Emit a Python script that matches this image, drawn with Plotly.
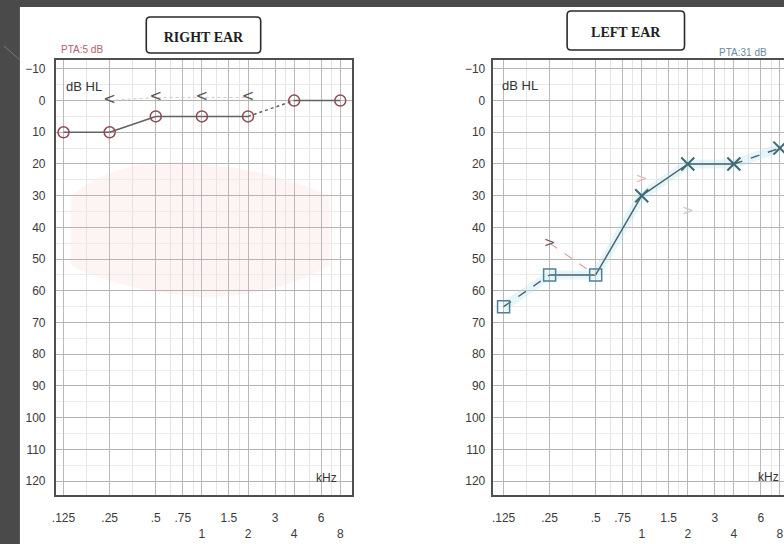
import plotly.graph_objects as go

# ---- audiogram data -------------------------------------------------------
freqs = [0.125, 0.25, 0.5, 1, 2, 4, 8]

# right ear, air conduction (circles)
right_ac = [10, 10, 5, 5, 5, 0, 0]
right_ac_dash = ["solid", "solid", "solid", "solid", "dot", "solid"]
# right ear, bone conduction (<)
right_bc_freqs = [0.25, 0.5, 1, 2]
right_bc = [0, -1, -1, -1]

# left ear, air conduction: masked (squares) then unmasked (X)
left_sq_freqs = [0.125, 0.25, 0.5]
left_sq = [65, 55, 55]
left_x_freqs = [1, 2, 4, 8]
left_x = [30, 20, 20, 15]
left_ac = left_sq + left_x
left_ac_dash = ["dash", "solid", "solid", "solid", "solid", "dash"]
# left ear, bone conduction (>)
left_bc_freqs = [0.25, 1, 2]
left_bc = [45, 25, 35]

tick_freqs = [0.125, 0.25, 0.5, 0.75, 1, 1.5, 2, 3, 4, 6, 8]
tick_text = [".125", ".25", ".5", ".75", "<br>1", "1.5", "<br>2", "3", "<br>4", "6", "<br>8"]
minor_freqs = [0.177, 0.354, 0.625, 0.875, 1.25, 1.75, 2.5, 3.5, 5, 7]
db_ticks = list(range(-10, 121, 10))

W, H = 784, 544
SLIDE = "#4a4a4a"
FRAME = "#4f4f4f"
NARROW = "Liberation Sans Narrow, Arial Narrow, Liberation Sans, sans-serif"


def px(x):
    return x / W


def py(y):
    return 1 - y / H


fig = go.Figure()

# ---- right ear ------------------------------------------------------------
RED = "#8e4a52"
for i, d in enumerate(right_ac_dash):
    fig.add_trace(go.Scatter(
        x=freqs[i:i + 2], y=right_ac[i:i + 2], mode="lines",
        line=dict(color="#626262", width=1.5, dash=d),
        xaxis="x", yaxis="y", showlegend=False, hoverinfo="skip"))
fig.add_trace(go.Scatter(
    x=right_bc_freqs, y=right_bc, mode="lines",
    line=dict(color="#dcc4c8", width=1, dash="dot"),
    xaxis="x", yaxis="y", showlegend=False, hoverinfo="skip"))
fig.add_trace(go.Scatter(
    x=freqs, y=right_ac, mode="markers",
    marker=dict(symbol="circle-open", size=11, color=RED, line=dict(width=1.5)),
    xaxis="x", yaxis="y", showlegend=False, cliponaxis=False))
fig.add_trace(go.Scatter(
    x=right_bc_freqs, y=right_bc, mode="text", text=["<"] * len(right_bc),
    textfont=dict(family="DejaVu Sans", size=15, color="#555555"),
    xaxis="x", yaxis="y", showlegend=False))

# ---- left ear -------------------------------------------------------------
BLUE = "#4f7f98"
fig.add_trace(go.Scatter(
    x=freqs, y=left_ac, mode="lines",
    line=dict(color="rgba(170,225,240,0.3)", width=9),
    xaxis="x2", yaxis="y2", showlegend=False, hoverinfo="skip"))
for i, d in enumerate(left_ac_dash):
    fig.add_trace(go.Scatter(
        x=freqs[i:i + 2], y=left_ac[i:i + 2], mode="lines",
        line=dict(color="#4d5d66", width=1.4, dash=d),
        xaxis="x2", yaxis="y2", showlegend=False, hoverinfo="skip"))
fig.add_trace(go.Scatter(
    x=[left_bc_freqs[0], left_sq_freqs[2]], y=[left_bc[0], left_sq[2]], mode="lines",
    line=dict(color="#dba0b0", width=1.2, dash="dash"),
    xaxis="x2", yaxis="y2", showlegend=False, hoverinfo="skip"))
fig.add_trace(go.Scatter(
    x=left_sq_freqs, y=left_sq, mode="markers",
    marker=dict(symbol="square-open", size=12, color=BLUE, line=dict(width=1.5)),
    xaxis="x2", yaxis="y2", showlegend=False))
fig.add_trace(go.Scatter(
    x=left_x_freqs, y=left_x, mode="markers",
    marker=dict(symbol="x-thin-open", size=13, color="#3e6a72", line=dict(width=2)),
    xaxis="x2", yaxis="y2", showlegend=False))
fig.add_trace(go.Scatter(
    x=left_bc_freqs, y=left_bc, mode="text", text=[">"] * len(left_bc),
    textfont=dict(family="DejaVu Sans", size=14, color=["#6a5a60", "#e3b8c4", "#c8c8c8"]),
    xaxis="x2", yaxis="y2", showlegend=False))

# ---- axes -----------------------------------------------------------------
y_top, y_bot = 60, 495


def xaxis(domain, rng):
    return dict(
        type="log", domain=domain, range=rng,
        tickmode="array", tickvals=tick_freqs, ticktext=tick_text,
        tickfont=dict(family=NARROW, size=12, color="#3a3a3a"),
        ticks="", ticklabelstandoff=11,
        showgrid=True, gridcolor="#bababa", gridwidth=1,
        minor=dict(tickmode="array", tickvals=minor_freqs, showgrid=True,
                   gridcolor="#e4e4e4", gridwidth=1),
        showline=True, linecolor=FRAME, linewidth=1.6,
        zeroline=False, fixedrange=True)


def yaxis(standoff):
    return dict(
        domain=[py(y_bot), py(y_top)], range=[124.4, -12.8],
        tickmode="array", tickvals=db_ticks,
        tickfont=dict(family=NARROW, size=12, color="#3a3a3a"),
        ticks="", ticklabelstandoff=standoff,
        showgrid=True, gridcolor="#b4b4b4", gridwidth=1,
        minor=dict(dtick=5, showgrid=True, gridcolor="#ebebeb", gridwidth=1),
        showline=True, linecolor=FRAME, linewidth=1.6,
        zeroline=False, fixedrange=True)


lx = xaxis([px(52), px(350)], [-0.954, 0.981])
lx.update(anchor="y", mirror=True)
rx = xaxis([px(492), 1.0], [-0.969, 0.930])
rx.update(anchor="y2", mirror=True)
ly = yaxis(6)
ly.update(anchor="x", mirror=True)
ry = yaxis(4)
ry.update(anchor="x2", mirror=False)

# ---- decorations ------------------------------------------------------------


def rounded_box(x0, y0, x1, y1, r):
    rx_, ry_ = r / W, r / H
    X0, X1 = px(x0), px(x1)
    Y0, Y1 = py(y1), py(y0)
    return (f"M{X0 + rx_},{Y0} L{X1 - rx_},{Y0} Q{X1},{Y0} {X1},{Y0 + ry_} "
            f"L{X1},{Y1 - ry_} Q{X1},{Y1} {X1 - rx_},{Y1} "
            f"L{X0 + rx_},{Y1} Q{X0},{Y1} {X0},{Y1 - ry_} "
            f"L{X0},{Y0 + ry_} Q{X0},{Y0} {X0 + rx_},{Y0} Z")


TITLE_FONT = dict(family="Liberation Serif, DejaVu Serif, serif", size=14, color="#1e1e1e")

shapes = [
    # white slide content area
    dict(type="rect", xref="paper", yref="paper", x0=px(16), x1=1.0,
         y0=0, y1=py(7), fillcolor="white", line=dict(width=0), layer="below"),
    # slide corner accent
    dict(type="line", xref="paper", yref="paper", x0=0, y0=py(46), x1=px(16),
         y1=py(60), line=dict(color="#7a7a7a", width=1)),
    # faint speech-area tint on the right-ear chart
    dict(type="path", xref="x", yref="y",
         path="M0.14,30 Q0.3,17 1,20 Q3,22 6.8,30 L6.8,52 Q3,62 1,62 Q0.3,60 0.14,52 Z",
         fillcolor="rgba(250,205,205,0.22)", line=dict(width=0), layer="below"),
    # ear title boxes
    dict(type="path", xref="paper", yref="paper",
         path=rounded_box(143, 17, 258, 53, 4),
         line=dict(color="#2a2a2a", width=1.6), fillcolor="white",
         label=dict(text="<b>RIGHT EAR</b>", font=TITLE_FONT,
                    textposition="middle center")),
    dict(type="path", xref="paper", yref="paper",
         path=rounded_box(566, 11, 684, 50, 4),
         line=dict(color="#2a2a2a", width=1.6), fillcolor="white",
         label=dict(text="<b>LEFT EAR</b>", font=TITLE_FONT,
                    textposition="middle center")),
]

annotations = []


def label(text, x, y, size=12, color="#333333", xanchor="left", family=NARROW):
    annotations.append(dict(
        text=text, x=px(x), y=py(y), xref="paper", yref="paper",
        xanchor=xanchor, yanchor="middle", showarrow=False,
        font=dict(family=family, size=size, color=color)))


label("dB HL", 60, 86, size=13)
label("dB HL", 499, 85, size=13)
label("kHz", 337, 478, size=12, xanchor="right")
label("kHz", 781, 477, size=12, xanchor="right")
label("PTA:5 dB", 55, 49, size=10, color="#b06070")
label("PTA:31 dB", 717, 52, size=10, color="#6a8aa0")

fig.update_layout(
    width=W, height=H, margin=dict(l=0, r=0, t=0, b=0),
    paper_bgcolor=SLIDE, plot_bgcolor="white",
    xaxis=lx, yaxis=ly, xaxis2=rx, yaxis2=ry,
    shapes=shapes, annotations=annotations, showlegend=False,
)

fig.write_html("out.html")
